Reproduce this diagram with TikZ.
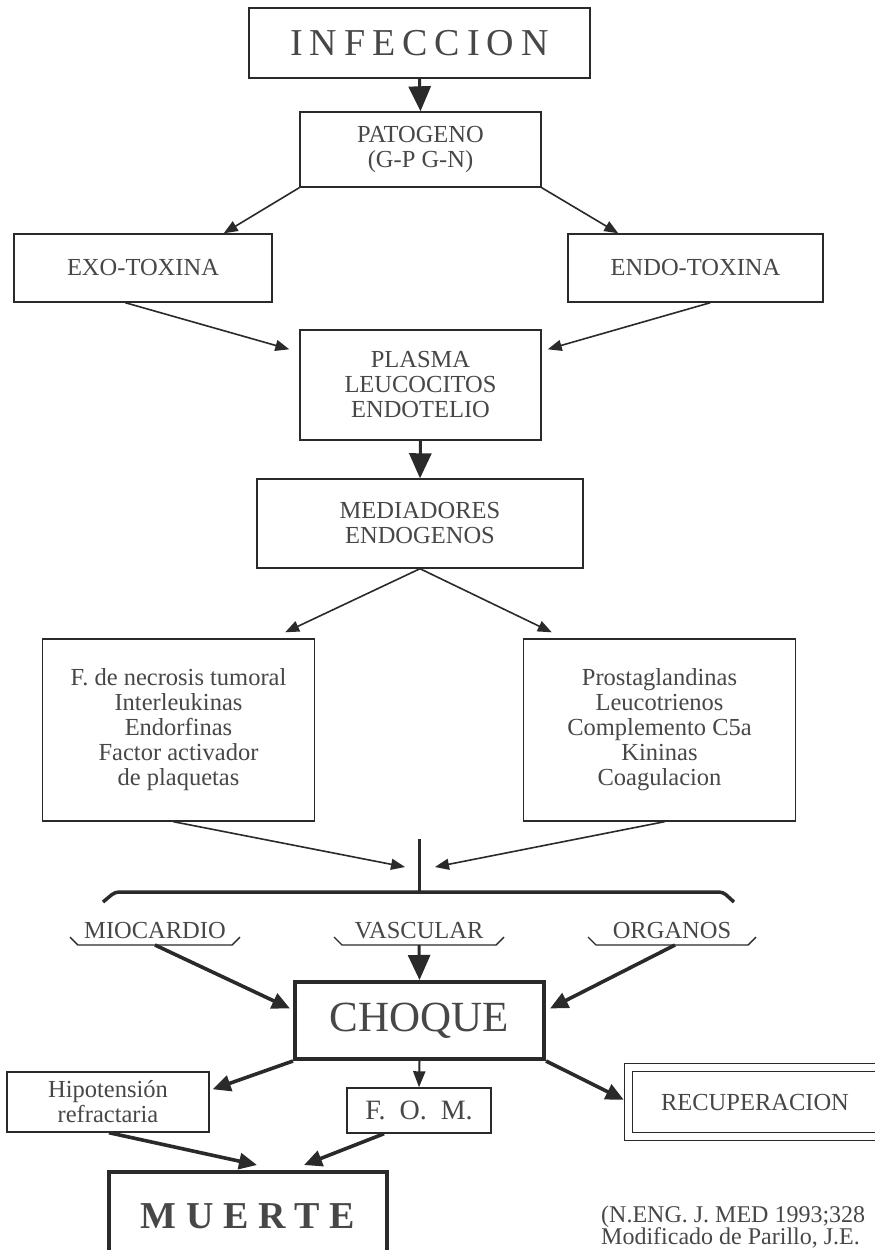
\documentclass[tikz,border=0pt]{standalone}
\usepackage{fontspec}
\setmainfont{Liberation Serif}
\usetikzlibrary{arrows.meta,calc}
\definecolor{ink}{HTML}{2A2A2A}
\definecolor{txt}{HTML}{474747}
\newcommand{\fn}{\fontsize{24.5}{25}\selectfont}
\newcommand{\gp}{\hspace{7pt}}
\begin{document}
\begin{tikzpicture}[x=1pt,y=-1pt,
  box/.style={draw=ink,line width=1.4pt,inner sep=0pt,align=center,text=txt,font=\fn},
  heavybox/.style={box,line width=4pt},
  thinarr/.style={draw=ink,line width=1.6pt,-{Triangle[length=14pt,width=11pt]}},
  thickarr/.style={draw=ink,line width=3.6pt,-{Triangle[length=18pt,width=16pt]}},
  bigarr/.style={draw=ink,line width=3pt,-{Triangle[length=25pt,width=22pt]}},
  midarr/.style={draw=ink,line width=2pt,-{Triangle[length=16pt,width=12pt]}},
  lbl/.style={inner sep=0pt,text=txt,font=\fn,anchor=base},
  cite/.style={inner sep=0pt,text=txt,font=\fontsize{24}{26}\selectfont,anchor=base west},
  uline/.style={draw=ink,line width=1.4pt}
]
\useasboundingbox[fill=white] (0,0) rectangle (875,1250);
\begin{scope}
\clip (0,0) rectangle (875,1250);

\node[box,minimum width=341pt,minimum height=70pt,font=\fontsize{38}{40}\selectfont] (inf) at (419.5,43)
  {I\gp N\gp F\gp E\gp C\gp C\gp I\gp O\gp N};
\node[box,minimum width=241pt,minimum height=75pt] (pat) at (420.5,149.5) {PATOGENO\\(G-P G-N)};
\node[box,minimum width=258pt,minimum height=68pt] (exo) at (143,268) {EXO-TOXINA};
\node[box,minimum width=255pt,minimum height=68pt] (endo) at (695.5,268) {ENDO-TOXINA};
\node[box,minimum width=241pt,minimum height=110pt] (plasma) at (420.5,385) {PLASMA\\LEUCOCITOS\\ENDOTELIO};
\node[box,minimum width=326pt,minimum height=89pt] (med) at (420,523.5) {MEDIADORES\\ENDOGENOS};
\node[box,minimum width=272pt,minimum height=182pt] (left) at (178.5,730)
  {F. de necrosis tumoral\\Interleukinas\\Endorfinas\\Factor activador\\de plaquetas};
\node[box,minimum width=272pt,minimum height=182pt] (right) at (659.5,730)
  {Prostaglandinas\\Leucotrienos\\Complemento C5a\\Kininas\\Coagulacion};

\coordinate (jtop) at (419,839);
\coordinate (jbot) at (419,892);

\node[lbl] (mio) at (155,938) {MIOCARDIO};
\node[lbl] (vas) at (419,938) {VASCULAR};
\node[lbl] (org) at (672,938) {ORGANOS};

\node[heavybox,minimum width=249pt,minimum height=77pt,font=\fontsize{43}{45}\selectfont] (choque) at (419.5,1020.5) {CHOQUE};
\node[box,minimum width=202pt,minimum height=60pt] (hipo) at (108,1102) {Hipotensión\\refractaria};
\node[box,minimum width=144pt,minimum height=45pt,font=\fontsize{28}{30}\selectfont] (fom) at (419,1110.5) {F.\ \ O.\ \ M.};
\node[box,double,double distance=7pt,line width=1.4pt,minimum width=253pt,minimum height=69pt] (recup) at (755,1102) {RECUPERACION};
\node[heavybox,minimum width=278pt,minimum height=88pt,font=\fontsize{38}{40}\bfseries\selectfont] (muerte) at (248,1216) {M U E R T E};

\node[cite] (cit1) at (601,1222) {(N.ENG. J. MED 1993;328};
\node[cite] (cit2) at (601,1244) {Modificado de Parillo, J.E.};

% connectors
\draw[bigarr] (inf.south) -- (pat.north);
\draw[thinarr] (pat.south west) -- ($(exo.north east)+(-49,0)$);
\draw[thinarr] (pat.south east) -- ($(endo.north west)+(51,0)$);
\draw[thinarr] ($(exo.south west)+(112,0)$) -- ($(plasma.north west)+(-10,20)$);
\draw[thinarr] ($(endo.south west)+(143,0)$) -- ($(plasma.north east)+(6,20)$);
\draw[bigarr] (plasma.south) -- (med.north);
\draw[thinarr] (med.south) -- ($(left.north east)+(-30,-6)$);
\draw[thinarr] (med.south) -- ($(right.north west)+(29,-6)$);
\draw[thinarr] ($(left.south)+(-5,0)$) -- ($(jtop)+(-14,28)$);
\draw[thinarr] ($(right.south)+(5,0)$) -- ($(jtop)+(16,28)$);
\draw[draw=ink,line width=3pt] (jtop) -- (jbot);
\draw[draw=ink,line width=3.5pt,rounded corners=4pt] (103,902) -- (115,892) -- (723,892) -- (734,902);

\foreach \n/\h in {mio/85,vas/85,org/84}{
  \draw[uline] ($(\n.base)+(-\h,-1)$) -- ($(\n.base)+(-\h+8,7)$) -- ($(\n.base)+(\h-8,7)$) -- ($(\n.base)+(\h,-1)$);
}
\draw[bigarr] ($(vas.base)+(0,7)$) -- (choque.north);
\draw[thickarr] ($(mio.base)+(0,7)$) -- ($(choque.west)+(-3,-12)$);
\draw[thickarr] ($(org.base)+(3,7)$) -- ($(choque.east)+(4,-12)$);
\draw[thickarr] (choque.south west) -- ($(hipo.north east)+(3,18)$);
\draw[midarr] (choque.south) -- (fom.north);
\draw[thickarr] (choque.south east) -- ($(recup.north west)+(-4,33)$);
\draw[thickarr] ($(hipo.south)+(1,0)$) -- ($(muerte.north)+(9,-5)$);
\draw[thickarr] ($(fom.south)+(-35,0)$) -- ($(muerte.north)+(56,-5)$);
\end{scope}
\end{tikzpicture}
\end{document}
